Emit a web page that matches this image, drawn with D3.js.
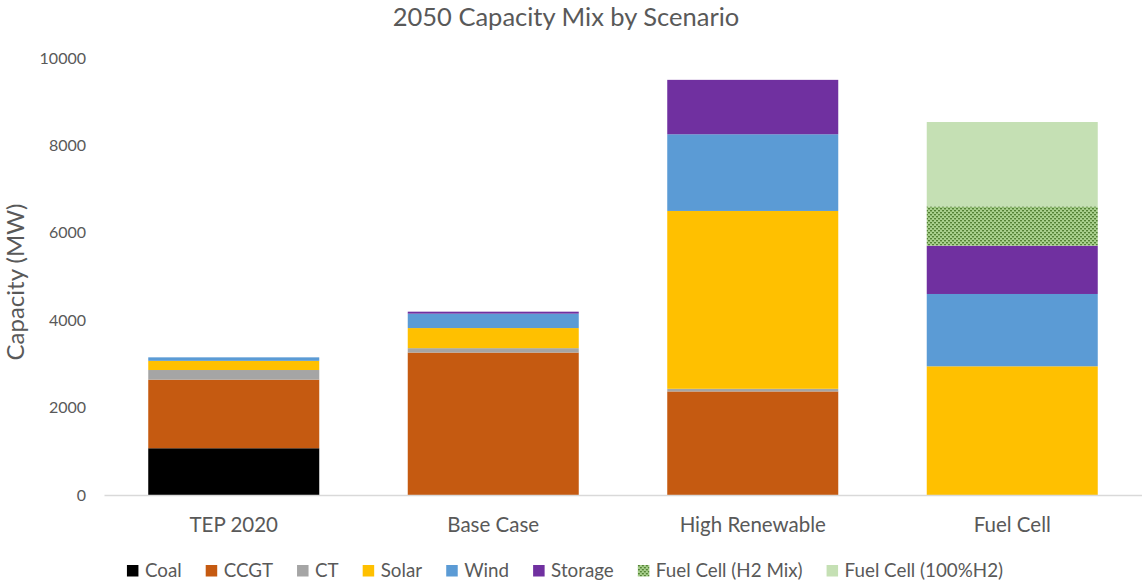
<!DOCTYPE html>
<html>
<head>
<meta charset="utf-8">
<script src="https://cdn.jsdelivr.net/npm/d3@7"></script>
<style>
  html, body { margin: 0; padding: 0; background: #fff; }
  svg { display: block; font-family: "Lato", "Open Sans", sans-serif; }
</style>
</head>
<body>
<svg id="chart" width="1142" height="587"></svg>
<script>
// Scenarios along the x axis
const scenarios = ["TEP 2020", "Base Case", "High Renewable", "Fuel Cell"];

// Installed capacity (MW) per technology, one value per scenario
const coal      = [1070, 0, 0, 0];
const ccgt      = [1570, 3260, 2370, 0];
const ct        = [220, 100, 60, 0];
const solar     = [210, 460, 4070, 2945];
const wind      = [80, 330, 1755, 1655];
const storage   = [0, 45, 1245, 1105];
const fcH2Mix   = [0, 0, 0, 900];
const fc100H2   = [0, 0, 0, 1930];

const seriesNames = ["Coal", "CCGT", "CT", "Solar", "Wind", "Storage", "Fuel Cell (H2 Mix)", "Fuel Cell (100%H2)"];
const seriesValues = [coal, ccgt, ct, solar, wind, storage, fcH2Mix, fc100H2];
const seriesColors = ["#000000", "#c55a11", "#a5a5a5", "#ffc000", "#5b9bd5", "#7030a0", "url(#h2mix)", "#c5e0b4"];

const yTicks = [0, 2000, 4000, 6000, 8000, 10000];

const svg = d3.select("#chart");
const plot = { left: 104, right: 1142, top: 58, bottom: 495 };

// Dotted fill for the hydrogen-mix fuel cell series
const defs = svg.append("defs");
const pat = defs.append("pattern")
  .attr("id", "h2mix").attr("patternUnits", "userSpaceOnUse")
  .attr("width", 4).attr("height", 4);
pat.append("rect").attr("width", 4).attr("height", 4).attr("fill", "#a9d18e");
pat.append("rect").attr("x", 0).attr("y", 0).attr("width", 2).attr("height", 1.4).attr("fill", "#548235");
pat.append("rect").attr("x", 2).attr("y", 2).attr("width", 2).attr("height", 1.4).attr("fill", "#548235");

// Table for the stack layout
const table = scenarios.map((s, i) => {
  const row = { scenario: s };
  seriesNames.forEach((n, k) => row[n] = seriesValues[k][i]);
  return row;
});
const stacked = d3.stack().keys(seriesNames)(table);

const x = d3.scaleBand().domain(scenarios)
  .range([plot.left, plot.right]).paddingInner(0.341).paddingOuter(0.1705);
const y = d3.scaleLinear().domain([0, 10000]).range([plot.bottom, plot.top]);

// Title
svg.append("text")
  .attr("x", 566).attr("y", 26)
  .attr("text-anchor", "middle")
  .attr("font-size", 25.5).attr("fill", "#595959")
  .text("2050 Capacity Mix by Scenario");

// Y axis title
svg.append("text")
  .attr("transform", `translate(24,${282}) rotate(-90)`)
  .attr("text-anchor", "middle")
  .attr("font-size", 24).attr("fill", "#595959")
  .text("Capacity (MW)");

// Y axis tick labels
const yAxis = svg.append("g")
  .attr("transform", `translate(${plot.left - 18},0)`)
  .call(d3.axisLeft(y).tickValues(yTicks).tickFormat(d3.format("d")).tickSize(0).tickPadding(0));
yAxis.select(".domain").remove();
yAxis.selectAll("text")
  .attr("font-family", "Lato, 'Open Sans', sans-serif")
  .attr("font-size", 16).attr("fill", "#595959");

// Stacked bars
svg.append("g").selectAll("g")
  .data(stacked)
  .join("g")
  .attr("fill", (d, k) => seriesColors[k])
  .selectAll("rect")
  .data(d => d)
  .join("rect")
  .attr("x", d => x(d.data.scenario))
  .attr("width", x.bandwidth())
  .attr("y", d => y(d[1]))
  .attr("height", d => y(d[0]) - y(d[1]));

// X axis baseline and category labels
const xAxis = svg.append("g")
  .attr("transform", `translate(0,${plot.bottom})`)
  .call(d3.axisBottom(x).tickSize(0).tickPadding(0));
xAxis.select(".domain").attr("stroke", "#d9d9d9").attr("stroke-width", 1.3);
xAxis.selectAll("text")
  .attr("dy", null).attr("y", 36.5)
  .attr("font-family", "Lato, 'Open Sans', sans-serif")
  .attr("font-size", 20.5).attr("fill", "#595959");

// Legend along the bottom
const legend = svg.append("g").attr("transform", "translate(0,577)");
const items = legend.selectAll("g").data(seriesNames).join("g");
items.append("rect")
  .attr("y", -12).attr("width", 11.5).attr("height", 11.5)
  .attr("fill", (d, k) => seriesColors[k]);
items.append("text")
  .attr("x", 18).attr("y", 0)
  .attr("font-size", 18.8).attr("fill", "#595959")
  .text(d => d);
let cursor = 0;
const gap = 24;
items.each(function () {
  const w = this.getBBox().width;
  d3.select(this).attr("data-x", cursor);
  cursor += w + gap;
});
const total = cursor - gap;
const start = 565 - total / 2;
items.attr("transform", function () { return `translate(${start + +this.getAttribute("data-x")},0)`; });
</script>
</body>
</html>
